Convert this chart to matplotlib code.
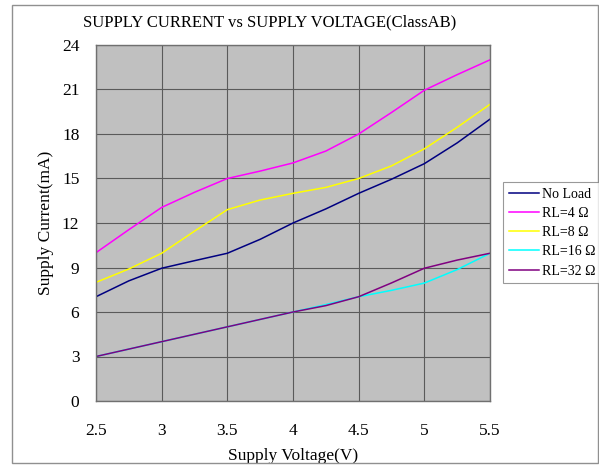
import matplotlib

matplotlib.use("Agg")
import matplotlib.pyplot as plt  # noqa: E402
from matplotlib.patches import Rectangle  # noqa: E402

FONT = "Liberation Serif"
BG_PLOT = "#c0c0c0"
GRID = "#5a5a5a"

# supply voltage (V)
volts = [2.5, 2.75, 3.0, 3.25, 3.5, 3.75, 4.0, 4.25, 4.5, 4.75, 5.0, 5.25, 5.5]

# supply current (mA)
no_load = [7.03, 8.1, 8.95, 9.46, 9.96, 10.9, 12.0, 12.95, 14.0, 14.95, 16.0, 17.4, 19.0]
rl_4 = [10.0, 11.55, 13.05, 14.07, 15.0, 15.5, 16.05, 16.85, 18.0, 19.45, 20.95, 22.0, 23.0]
rl_8 = [8.0, 8.9, 9.96, 11.45, 12.9, 13.55, 14.0, 14.4, 15.0, 15.85, 17.0, 18.45, 20.0]
rl_16 = [3.0, 3.5, 4.0, 4.5, 5.0, 5.5, 6.0, 6.5, 7.03, 7.46, 7.95, 8.86, 9.96]
rl_32 = [3.0, 3.5, 4.0, 4.5, 5.0, 5.5, 6.0, 6.43, 7.03, 7.96, 8.95, 9.5, 9.96]

series = [
    ("No Load", no_load, "#000080"),
    ("RL=4 Ω", rl_4, "#ff00ff"),
    ("RL=8 Ω", rl_8, "#ffff00"),
    ("RL=16 Ω", rl_16, "#00ffff"),
    ("RL=32 Ω", rl_32, "#800080"),
]

x_ticks = [2.5, 3, 3.5, 4, 4.5, 5, 5.5]
x_labels = ["2.5", "3", "3.5", "4", "4.5", "5", "5.5"]
y_ticks = [0, 3, 6, 9, 12, 15, 18, 21, 24]

W, H = 599, 465
fig = plt.figure(figsize=(W / 100, H / 100), dpi=100)
fig.patch.set_facecolor("white")

# outer chart frame
fig.add_artist(Rectangle((12 / W, 1 - 463 / H), (598 - 12) / W, (463 - 5) / H,
                         transform=fig.transFigure, fill=False,
                         edgecolor="#909090", lw=1))

ax = fig.add_axes([96 / W, 1 - 401 / H, 394 / W, 356 / H])
ax.set_facecolor(BG_PLOT)

for name, vals, col in series:
    ax.plot(volts, vals, color=col, lw=1.1, label=name)

ax.set_xlim(2.5, 5.5)
ax.set_ylim(0, 24)
ax.set_xticks(x_ticks)
ax.set_xticklabels(x_labels)
ax.set_yticks(y_ticks)
ax.grid(True, color=GRID, lw=0.8)
ax.set_axisbelow(True)
ax.tick_params(length=0, labelsize=12.5)
ax.tick_params(axis="y", pad=12)
ax.tick_params(axis="x", pad=16)
for lab in ax.get_xticklabels() + ax.get_yticklabels():
    lab.set_fontfamily(FONT)
for sp in ax.spines.values():
    sp.set_color("#707070")
    sp.set_linewidth(1)

ax.set_xlabel("Supply Voltage(V)", fontsize=12.5, fontfamily=FONT, labelpad=6)
ax.set_ylabel("Supply Current(mA)", fontsize=12.5, fontfamily=FONT, labelpad=6)

fig.text(83 / W, 1 - 22 / H, "SUPPLY CURRENT vs SUPPLY VOLTAGE(ClassAB)",
         fontsize=12, fontfamily=FONT, ha="left", va="center")

leg = fig.legend(loc="upper left", bbox_to_anchor=(503 / W, 1 - 182 / H),
                 prop={"family": FONT, "size": 10}, frameon=True,
                 fancybox=False, handlelength=2.2, handletextpad=0.2,
                 labelspacing=0.45, borderpad=0.4, borderaxespad=0)
leg.get_frame().set_edgecolor("#808080")
leg.get_frame().set_linewidth(0.8)

fig.savefig("out.png", dpi=100, facecolor="white")
